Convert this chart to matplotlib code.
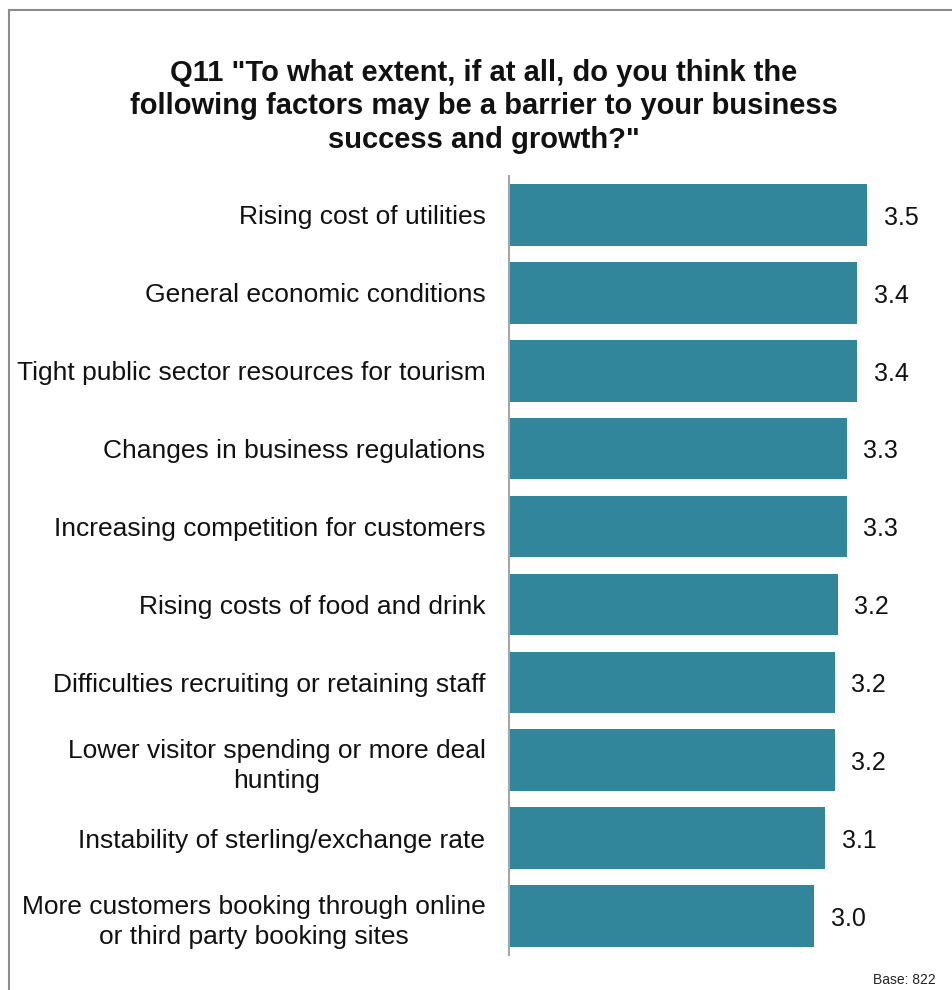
import matplotlib
matplotlib.use("Agg")
import matplotlib.pyplot as plt
from matplotlib.lines import Line2D

plt.rcParams['font.family'] = ['Liberation Sans', 'DejaVu Sans']

# ---------- data ----------
factors = [
    "Rising cost of utilities",
    "General economic conditions",
    "Tight public sector resources for tourism",
    "Changes in business regulations",
    "Increasing competition for customers",
    "Rising costs of food and drink",
    "Difficulties recruiting or retaining staff",
    "Lower visitor spending or more deal\nhunting",
    "Instability of sterling/exchange rate",
    "More customers booking through online\nor third party booking sites",
]
mean_scores = [3.51, 3.41, 3.41, 3.31, 3.31, 3.22, 3.19, 3.19, 3.10, 2.99]
base_n = 822

title = ('Q11 "To what extent, if at all, do you think the\n'
         'following factors may be a barrier to your business\n'
         'success and growth?"')

BAR_COLOR = '#31869c'
W, H = 952, 990

fig = plt.figure(figsize=(W / 100, H / 100), dpi=100)
ax = fig.add_axes([509 / W, 35 / H, 400 / W, 779 / H])

ypos = list(range(len(factors)))
ax.barh(ypos, mean_scores, height=0.79, color=BAR_COLOR)
ax.set_xlim(0, 3.92)
ax.set_ylim(len(factors) - 0.5, -0.5)

ax.set_yticks(ypos)
ax.set_yticklabels(factors, fontsize=19, multialignment='center', color='#111111',
                   linespacing=1.35)
ax.tick_params(axis='y', length=0, pad=17)
ax.set_xticks([])

for s in ('top', 'right', 'bottom'):
    ax.spines[s].set_visible(False)
ax.spines['left'].set_color('#a6a6a6')
ax.spines['left'].set_linewidth(1.5)

# value labels just past the bar ends
for y, v in zip(ypos, mean_scores):
    ax.annotate(f"{v:.1f}", xy=(v, y), xytext=(12, -2), textcoords='offset points',
                ha='left', va='center', fontsize=18, color='#111111')

fig.text(484 / W, 1 - 59 / H, title, ha='center', va='top', fontsize=21,
         fontweight='bold', linespacing=1.25, color='#111111')
fig.text(936 / W, 1 - 980 / H, f"Base: {base_n}", ha='right', va='center',
         fontsize=10, color='#222222')

# frame edges along the top and left
fig.add_artist(Line2D([8.5 / W, 1], [1 - 9.5 / H, 1 - 9.5 / H], transform=fig.transFigure,
                      color='#8c8c8c', lw=1.5))
fig.add_artist(Line2D([8.5 / W, 8.5 / W], [0, 1 - 9.5 / H], transform=fig.transFigure,
                      color='#8c8c8c', lw=1.5))

fig.savefig("out.png", dpi=100)
